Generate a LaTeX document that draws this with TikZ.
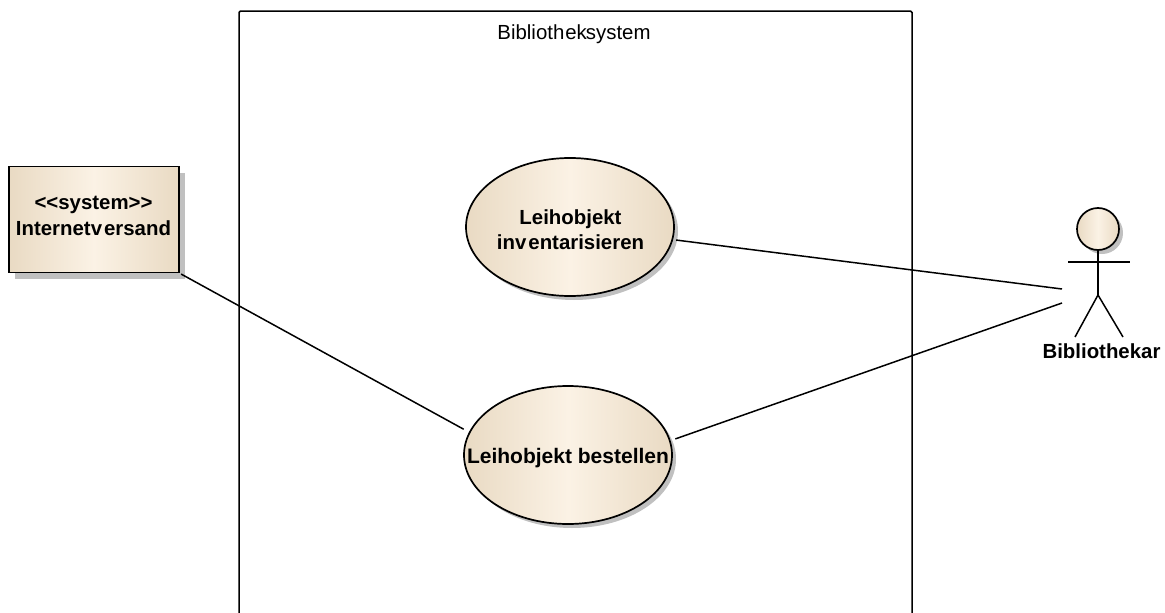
\documentclass[tikz,border=0pt]{standalone}
\usepackage{fontspec}
\setmainfont{Liberation Sans}
\usetikzlibrary{shapes.geometric,shadows}
\definecolor{edgetan}{HTML}{E9DAC3}
\definecolor{midtan}{HTML}{FBF2E5}
\definecolor{shadowgray}{HTML}{C0C0C0}
\tikzset{
  umlfill/.style={left color=edgetan,right color=edgetan,middle color=midtan},
  umlline/.style={draw=black,line width=1.7pt},
  conn/.style={draw=black,line width=1.5pt},
  usecase/.style={ellipse,umlline,umlfill,inner sep=0pt,minimum width=208pt,minimum height=138pt,
    drop shadow={shadow xshift=4pt,shadow yshift=-4pt,fill=shadowgray,opacity=1}},
  casetext/.style={inner sep=0pt,align=center,font=\fontsize{20.4}{25}\selectfont\bfseries},
  sysbox/.style={rectangle,umlline,umlfill,inner sep=0pt,minimum width=170pt,minimum height=106pt,
    drop shadow={shadow xshift=6pt,shadow yshift=-6pt,fill=shadowgray,opacity=1}},
  head/.style={circle,umlline,umlfill,inner sep=0pt,minimum size=42pt,
    drop shadow={shadow xshift=4pt,shadow yshift=-4pt,fill=shadowgray,opacity=1}},
  stick/.style={draw=black,line width=1.5pt},
  lbl/.style={inner sep=0pt,font=\fontsize{20.4}{24}\selectfont}
}
\begin{document}
\begin{tikzpicture}[x=1pt,y=-1pt]
\useasboundingbox (0,0) rectangle (1165,613);
\fill[white] (0,0) rectangle (1165,613);
% system boundary
\draw[umlline,line width=1.5pt,rounded corners=1.5pt] (239,613) -- (239,11) -- (912,11) -- (912,613);
\node[lbl] (title) at (574,34) {Biblioth\kern1pt ek\kern-1pt system};
% use cases
\node[usecase] (inv) at (570,227) {};
\node[casetext] (invtext) at (570.5,230) {Leihobjekt\\inv\kern2pt entarisieren};
\node[usecase] (best) at (568,455) {};
\node[casetext,font=\fontsize{21}{25}\selectfont\bfseries] (besttext) at (568,458.5) {Leihobjekt bestellen};
% external system
\node[sysbox] (ext) at (94,219.5) {};
\node[casetext,font=\fontsize{20.4}{25.5}\selectfont\bfseries] (exttext) at (93.5,216) {<{}<system>{}>\\Internetv\kern2pt ersand};
% actor
\node[head] (kopf) at (1098,229) {};
\coordinate (hip) at (1098,295);
\coordinate (armL) at (1068,262);
\coordinate (armR) at (1130,262);
\coordinate (legL) at (1075,337);
\coordinate (legR) at (1123,337);
\draw[stick] (kopf.south) -- (hip);
\draw[stick] (armL) -- (armR);
\draw[stick] (legL) -- (hip) -- (legR);
\node[inner sep=0pt,font=\fontsize{20.4}{24}\selectfont\bfseries] (actor) at (1101.5,351) {Bibliothekar};
% connectors
\coordinate (a1) at (1062,289);
\coordinate (a2) at (1062,303);
\draw[conn,shorten <=1.5pt,shorten >=6pt] (ext.south east) -- (best.167.3);
\draw[conn,shorten <=3pt] (inv.-7) -- (a1);
\draw[conn,shorten <=5pt] (best.8) -- (a2);
\end{tikzpicture}
\end{document}
